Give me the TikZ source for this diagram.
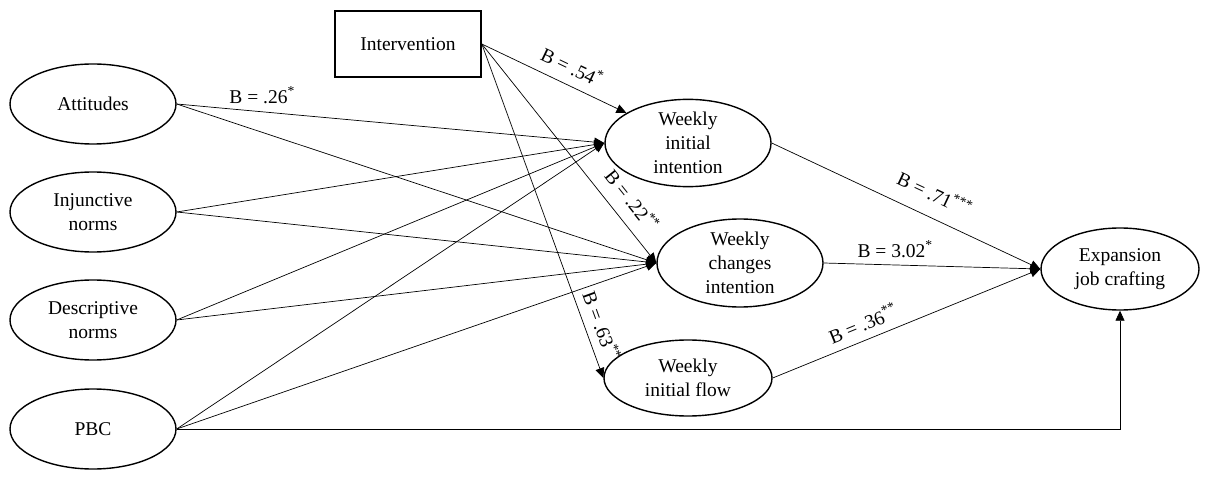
\documentclass[tikz,border=0pt]{standalone}
\usepackage{fontspec}
\setmainfont{Liberation Serif}
\usetikzlibrary{shapes.geometric,arrows.meta}
\begin{document}
\begin{tikzpicture}[x=1pt,y=-1pt,
  txt/.style={font=\fontsize{19.5}{24}\selectfont, align=center},
  latent/.style={txt, ellipse, draw, line width=1.4pt, inner sep=0pt,
                 minimum width=166pt, minimum height=80pt},
  manifest/.style={txt, rectangle, draw, line width=1.6pt, inner sep=0pt,
                   minimum width=146pt, minimum height=66pt},
  link/.style={line width=0.7pt, -{Triangle[length=10pt,width=9pt]}},
  coef/.style={txt, inner sep=3pt}]
\useasboundingbox (0,0) rectangle (1210,481);

% predictors
\node[latent] (att) at (93,104) {Attitudes};
\node[latent] (inj) at (93,212) {Injunctive\\norms};
\node[latent] (des) at (93,320) {Descriptive\\norms};
\node[latent] (pbc) at (93,429) {PBC};
\node[manifest] (int) at (408,44) {Intervention};

% mediators and outcome
\node[latent] (wii) at (688,143) {Weekly\\initial\\intention};
\node[latent, minimum height=88pt] (wci) at (740,263) {Weekly\\changes\\intention};
\node[latent, minimum width=168pt, minimum height=76pt] (wif) at (688,378) {Weekly\\initial flow};
\node[latent, minimum width=158pt, minimum height=82pt] (exp) at (1120,269) {Expansion\\job crafting};

% predictor paths
\draw[link] (att.east) -- node[coef, pos=0.2, above=5pt] {B = .26\textsuperscript{*}} (wii.west);
\draw[link] (att.east) -- (wci.west);
\draw[link] (inj.east) -- (wii.west);
\draw[link] (inj.east) -- (wci.west);
\draw[link] (des.east) -- (wii.west);
\draw[link] (des.east) -- (wci.west);
\draw[link] (pbc.east) -- (wii.west);
\draw[link] (pbc.east) -- (wci.west);
\draw[link] (pbc.east) -| (exp.south);

% intervention paths
\draw[link] (int.east) -- node[coef, pos=0.57, above=7pt, sloped] {B = .54\textsuperscript{*}} (wii.154);
\draw[link] (int.east) -- node[coef, pos=0.77, above=9pt, sloped] {B = .22\textsuperscript{**}} (wci.west);
\draw[link] (int.east) -- node[coef, pos=0.86, above=5pt, sloped] {B = .63\textsuperscript{**}} (wif.west);

% mediator paths
\draw[link] (wii.east) -- node[coef, pos=0.57, above=12pt, sloped] {B = .71\textsuperscript{***}} (exp.west);
\draw[link] (wci.east) -- node[coef, pos=0.33, above=4pt] {B = 3.02\textsuperscript{*}} (exp.west);
\draw[link] (wif.east) -- node[coef, pos=0.36, above=5pt, sloped] {B = .36\textsuperscript{**}} (exp.west);
\end{tikzpicture}
\end{document}
